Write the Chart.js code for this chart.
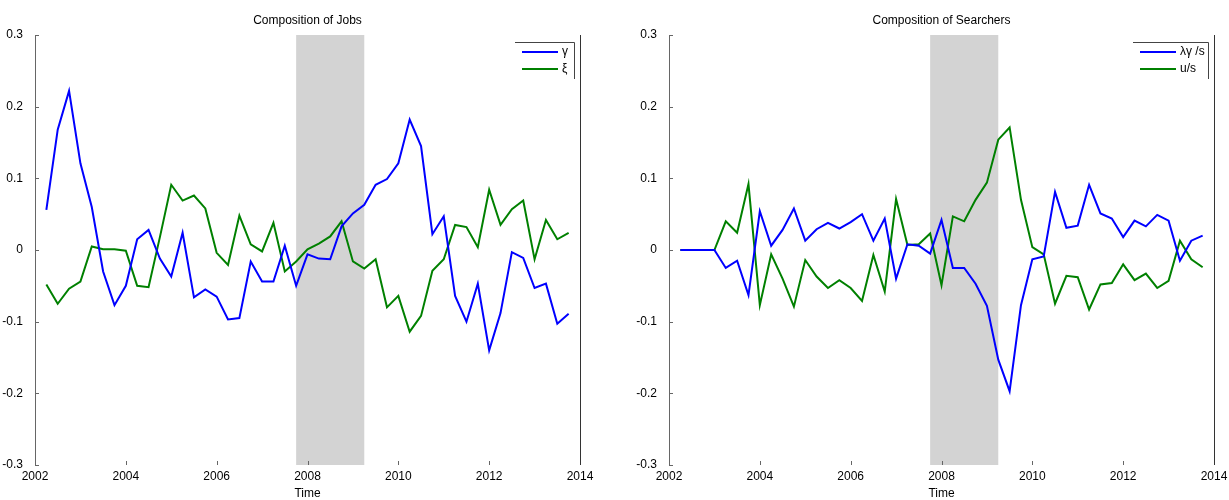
<!DOCTYPE html>
<html>
<head>
<meta charset="utf-8">
<script src="https://cdn.jsdelivr.net/npm/chart.js@4"></script>
<style>
  body { margin: 0; background: #fff; }
  #wrap { position: relative; width: 1229px; height: 500px; }
  canvas { position: absolute; top: 0; }
</style>
</head>
<body>
<div id="wrap">
  <canvas id="jobs" width="614" height="500" style="left:0"></canvas>
  <canvas id="searchers" width="615" height="500" style="left:614px"></canvas>
</div>
<script>
// quarterly dates
const quarters = [2002.25, 2002.5, 2002.75, 2003, 2003.25, 2003.5, 2003.75, 2004, 2004.25, 2004.5, 2004.75,
  2005, 2005.25, 2005.5, 2005.75, 2006, 2006.25, 2006.5, 2006.75, 2007, 2007.25, 2007.5, 2007.75,
  2008, 2008.25, 2008.5, 2008.75, 2009, 2009.25, 2009.5, 2009.75, 2010, 2010.25, 2010.5, 2010.75,
  2011, 2011.25, 2011.5, 2011.75, 2012, 2012.25, 2012.5, 2012.75, 2013, 2013.25, 2013.5, 2013.75];

// Composition of Jobs
const gamma = [0.056, 0.168, 0.222, 0.121, 0.060, -0.030, -0.077, -0.050, 0.015, 0.028, -0.012,
  -0.037, 0.024, -0.066, -0.055, -0.065, -0.097, -0.095, -0.016, -0.044, -0.044, 0.006, -0.050,
  -0.006, -0.012, -0.013, 0.033, 0.051, 0.063, 0.091, 0.099, 0.121, 0.182, 0.145, 0.022,
  0.047, -0.064, -0.100, -0.047, -0.140, -0.088, -0.003, -0.011, -0.053, -0.047, -0.103, -0.089];
const xi = [-0.048, -0.075, -0.054, -0.044, 0.005, 0.001, 0.001, -0.001, -0.050, -0.052, 0.018,
  0.091, 0.069, 0.076, 0.058, -0.004, -0.021, 0.048, 0.008, -0.002, 0.038, -0.030, -0.016,
  0.001, 0.009, 0.019, 0.040, -0.016, -0.026, -0.013, -0.080, -0.064, -0.114, -0.092, -0.029,
  -0.013, 0.035, 0.032, 0.004, 0.084, 0.035, 0.057, 0.069, -0.013, 0.042, 0.015, 0.024];

// Composition of Searchers
const lamGammaS = [0, 0, 0, 0, -0.025, -0.015, -0.063, 0.054, 0.006, 0.028, 0.058,
  0.013, 0.029, 0.038, 0.030, 0.039, 0.050, 0.013, 0.044, -0.040, 0.008, 0.006, -0.005,
  0.042, -0.025, -0.025, -0.047, -0.078, -0.153, -0.197, -0.077, -0.013, -0.009, 0.081, 0.031,
  0.034, 0.091, 0.051, 0.044, 0.018, 0.041, 0.033, 0.049, 0.041, -0.015, 0.013, 0.020];
const uS = [0, 0, 0, 0, 0.040, 0.024, 0.092, -0.077, -0.006, -0.040, -0.079,
  -0.014, -0.037, -0.053, -0.042, -0.053, -0.071, -0.007, -0.058, 0.071, 0.007, 0.008, 0.023,
  -0.049, 0.047, 0.040, 0.070, 0.094, 0.154, 0.171, 0.070, 0.004, -0.006, -0.075, -0.036,
  -0.038, -0.083, -0.048, -0.046, -0.020, -0.042, -0.033, -0.053, -0.043, 0.013, -0.013, -0.024];

const xTicks = [2002, 2004, 2006, 2008, 2010, 2012, 2014];
const yTicks = [-0.3, -0.2, -0.1, 0, 0.1, 0.2, 0.3];
const recession = [2007.75, 2009.25];

const FONT = '"Liberation Sans", Arial, Helvetica, sans-serif';

const decor = {
  id: 'decor',
  beforeDatasetsDraw(chart, args, o) {
    const { ctx, chartArea: a, scales: { x } } = chart;
    ctx.save();
    ctx.fillStyle = '#d3d3d3';
    const x0 = x.getPixelForValue(recession[0]);
    const x1 = x.getPixelForValue(recession[1]);
    ctx.fillRect(x0, a.top, x1 - x0, a.bottom - a.top);
    ctx.restore();
  },
  afterDatasetsDraw(chart, args, o) {
    const { ctx, chartArea: a, scales: { x, y } } = chart;
    ctx.save();
    ctx.strokeStyle = '#666';
    ctx.lineWidth = 1;
    // ticks
    ctx.beginPath();
    xTicks.forEach(t => {
      const px = Math.round(x.getPixelForValue(t)) + 0.5;
      ctx.moveTo(px, a.bottom);
      ctx.lineTo(px, a.bottom - 4);
    });
    yTicks.forEach(t => {
      const py = Math.round(y.getPixelForValue(t)) + 0.5;
      ctx.moveTo(a.left, py);
      ctx.lineTo(a.left + 4, py);
    });
    ctx.stroke();
    // right line
    ctx.strokeStyle = '#333';
    ctx.beginPath();
    ctx.moveTo(Math.round(a.right) + 0.5, a.top);
    ctx.lineTo(Math.round(a.right) + 0.5, a.bottom);
    ctx.stroke();

    // legend
    const bw = o.legendWidth, bx = a.right - 6 - bw, by = a.top + 7;
    ctx.strokeStyle = '#444';
    ctx.beginPath();
    ctx.moveTo(bx, by + 0.5);
    ctx.lineTo(bx + bw + 0.5, by + 0.5);
    ctx.lineTo(bx + bw + 0.5, by + 37);
    ctx.stroke();
    chart.data.datasets.forEach((ds, i) => {
      const ly = by + 10 + i * 17;
      ctx.strokeStyle = ds.borderColor;
      ctx.lineWidth = 2;
      ctx.beginPath();
      ctx.moveTo(bx + 7, ly);
      ctx.lineTo(bx + 43, ly);
      ctx.stroke();
      ctx.fillStyle = '#000';
      ctx.font = '12px ' + FONT;
      ctx.textAlign = 'left';
      ctx.textBaseline = 'middle';
      ctx.fillText(ds.label, bx + 47, ly);
    });

    // title and x label
    const cx = (a.left + a.right) / 2;
    ctx.fillStyle = '#000';
    ctx.font = '12px ' + FONT;
    ctx.textAlign = 'center';
    ctx.textBaseline = 'middle';
    ctx.fillText(o.title, cx, 21);
    ctx.fillText('Time', cx, 494);
    ctx.restore();
  }
};

function makeChart(id, title, names, series, padLeft, padRight, legendWidth) {
  const colors = ['#0000ff', '#008000'];
  new Chart(document.getElementById(id), {
    type: 'line',
    data: {
      datasets: series.map((s, i) => ({
        label: names[i],
        data: quarters.map((q, k) => ({ x: q, y: s[k] })),
        borderColor: colors[i],
        borderWidth: 2,
        pointRadius: 0,
        tension: 0,
        fill: false
      }))
    },
    options: {
      responsive: false,
      animation: false,
      layout: { padding: { left: padLeft, right: padRight, top: 35, bottom: 0 } },
      plugins: {
        legend: { display: false },
        tooltip: { enabled: false },
        decor: { title: title, legendWidth: legendWidth }
      },
      scales: {
        x: {
          type: 'linear', min: 2002, max: 2014,
          afterBuildTicks: s => { s.ticks = xTicks.map(v => ({ value: v })); },
          afterFit: s => { s.height = 35; },
          grid: { display: false },
          border: { display: false },
          ticks: { padding: -4, color: '#000', font: { size: 12, family: FONT }, maxRotation: 0,
            callback: v => String(v) }
        },
        y: {
          min: -0.3, max: 0.3,
          afterBuildTicks: s => { s.ticks = yTicks.map(v => ({ value: v })); },
          afterFit: s => { s.width = 35; },
          grid: { display: false },
          border: { display: true, color: '#666', width: 1 },
          ticks: { padding: 4, color: '#000', font: { size: 12, family: FONT },
            callback: v => String(Math.round(v * 10) / 10) }
        }
      }
    },
    plugins: [decor]
  });
}

makeChart('jobs', 'Composition of Jobs', ['γ', 'ξ'], [gamma, xi], 0, 34, 59);
makeChart('searchers', 'Composition of Searchers', ['λγ /s', 'u/s'], [lamGammaS, uS], 20, 15, 75);
</script>
</body>
</html>
